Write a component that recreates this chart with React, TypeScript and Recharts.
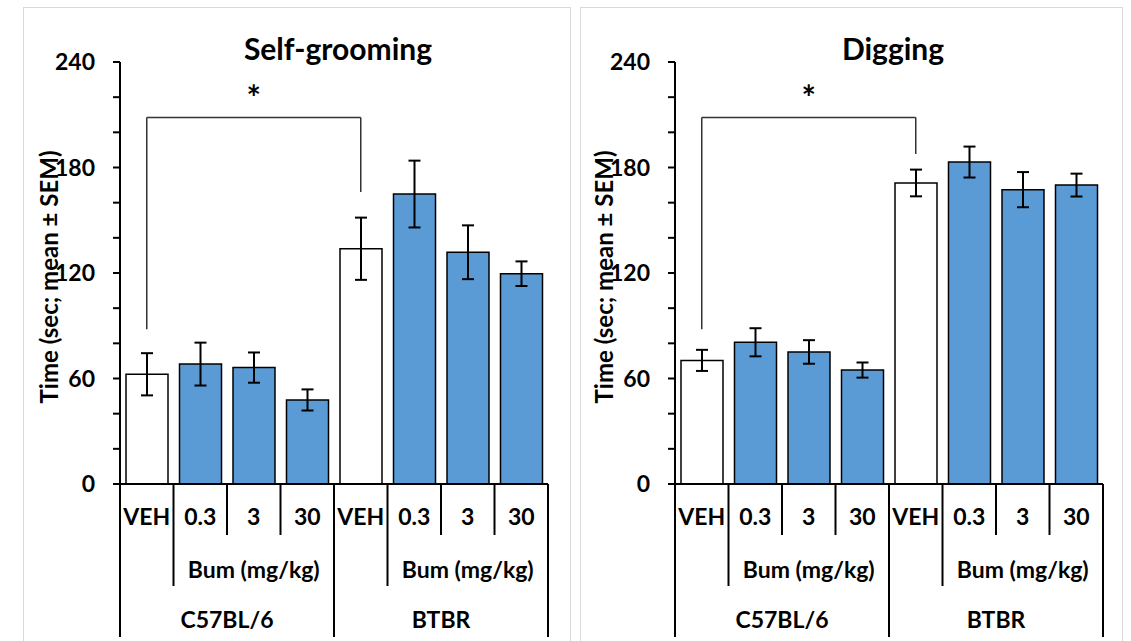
import { BarChart, Bar, XAxis, YAxis, ErrorBar, Cell, ReferenceLine } from 'recharts';

// category keys (unique) and the labels shown under each bar
const keys = ['C57-VEH', 'C57-0.3', 'C57-3', 'C57-30', 'BTBR-VEH', 'BTBR-0.3', 'BTBR-3', 'BTBR-30'];
const tickLabels = ['VEH', '0.3', '3', '30', 'VEH', '0.3', '3', '30'];
const strains = ['C57BL/6', 'BTBR'];
const doseLabel = 'Bum (mg/kg)';

const groomMeans = [62.4, 68.2, 66.2, 47.8, 133.8, 164.9, 131.8, 119.6];
const groomSem = [12, 12.2, 8.6, 6, 17.7, 19, 15.3, 7];
const digMeans = [70.3, 80.6, 75.1, 64.8, 171.2, 183.1, 167.4, 170];
const digSem = [6, 8, 6.7, 4.3, 7.6, 8.8, 10, 6.5];

const yTicks = [0, 20, 40, 60, 80, 100, 120, 140, 160, 180, 200, 220, 240];
const yLabels = [0, 60, 120, 180, 240];

// significance bracket (y values)
const bracketTop = 208.5;
const bracketLeftEnd = 88;
const groomBracketRight = 166;
const digBracketRight = 187.7;

const BLUE = '#5B9BD5';
const CHART_W = 568;
const CHART_H = 641;
const PLOT_LEFT = 120;
const PLOT_RIGHT = 548;
const PLOT_TOP = 62;
const PLOT_BOTTOM = 484;
const BAND = (PLOT_RIGHT - PLOT_LEFT) / keys.length;
const LABEL_SIZE = 23;

const XTick = (props: any) => {
  const { x, y, index } = props;
  const left = x - BAND / 2;
  const strainStart = index % 4 === 0;
  const doseStart = index % 4 === 1;
  const depth = strainStart ? 153 : doseStart ? 102 : 51;
  return (
    <g>
      <line x1={left} x2={left} y1={y} y2={y + depth} stroke="#000" strokeWidth={2} />
      {index === keys.length - 1 && (
        <line x1={x + BAND / 2} x2={x + BAND / 2} y1={y} y2={y + 153} stroke="#000" strokeWidth={2} />
      )}
      <text x={x} y={y + 41} textAnchor="middle" fontSize={LABEL_SIZE} fontWeight={700} fill="#000">
        {tickLabels[index]}
      </text>
      {doseStart && (
        <text x={x + BAND} y={y + 94} textAnchor="middle" fontSize={LABEL_SIZE} fontWeight={700} fill="#000">
          {doseLabel}
        </text>
      )}
      {strainStart && (
        <text x={x + 1.5 * BAND} y={y + 144} textAnchor="middle" fontSize={LABEL_SIZE} fontWeight={700} fill="#000">
          {strains[index / 4]}
        </text>
      )}
    </g>
  );
};

const YTick = (props: any) => {
  const { x, y, payload } = props;
  if (!yLabels.includes(payload.value)) return <g />;
  return (
    <text x={x} y={y + 8} textAnchor="end" fontSize={23} fontWeight={700} fill="#000">
      {payload.value}
    </text>
  );
};

const YLabel = (props: any) => {
  const vb = props.viewBox || { x: 60, y: PLOT_TOP, height: PLOT_BOTTOM - PLOT_TOP };
  const cx = vb.x - 12;
  const cy = vb.y + vb.height / 2 + 4;
  return (
    <text
      x={cx}
      y={cy}
      transform={`rotate(-90 ${cx} ${cy})`}
      textAnchor="middle"
      dominantBaseline="central"
      fontSize={24}
      fontWeight={700}
      fill="#000"
    >
      Time (sec; mean ± SEM)
    </text>
  );
};

const Panel = ({ title, means, sems, bracketRight, left }: any) => {
  const data = keys.map((k, i) => ({ key: k, mean: means[i], sem: sems[i] }));
  return (
    <div style={{ position: 'absolute', left, top: 0, width: CHART_W, height: CHART_H }}>
      <div
        style={{
          position: 'absolute',
          left: 0,
          width: 676,
          top: 33,
          fontSize: 30,
          lineHeight: '30px',
          fontWeight: 700,
          textAlign: 'center',
        }}
      >
        {title}
      </div>
      <BarChart
        width={CHART_W}
        height={CHART_H}
        data={data}
        margin={{ top: PLOT_TOP, right: CHART_W - PLOT_RIGHT, left: 60, bottom: 0 }}
        barSize={42}
      >
        <XAxis
          dataKey="key"
          interval={0}
          height={CHART_H - PLOT_BOTTOM}
          tickSize={0}
          tickMargin={0}
          tickLine={false}
          axisLine={{ stroke: '#000', strokeWidth: 2 }}
          tick={<XTick />}
        />
        <YAxis
          width={60}
          domain={[0, 240]}
          ticks={yTicks}
          interval={0}
          tickSize={7}
          tickMargin={18}
          tickLine={{ stroke: '#000', strokeWidth: 2 }}
          axisLine={{ stroke: '#000', strokeWidth: 2 }}
          tick={<YTick />}
          label={<YLabel />}
        />
        <ReferenceLine
          segment={[{ x: keys[0], y: bracketTop }, { x: keys[4], y: bracketTop }]}
          stroke="#333"
          strokeWidth={1.5}
          label={{ value: '*', position: 'top', offset: 7, fontSize: 34, fontWeight: 700, fill: '#000' }}
        />
        <ReferenceLine
          segment={[{ x: keys[0], y: bracketTop }, { x: keys[0], y: bracketLeftEnd }]}
          stroke="#333"
          strokeWidth={1.5}
        />
        <ReferenceLine
          segment={[{ x: keys[4], y: bracketTop }, { x: keys[4], y: bracketRight }]}
          stroke="#333"
          strokeWidth={1.5}
        />
        <Bar dataKey="mean" stroke="#000" strokeWidth={1.5} isAnimationActive={false}>
          {data.map((d, i) => (
            <Cell key={d.key} fill={i % 4 === 0 ? '#fff' : BLUE} />
          ))}
          <ErrorBar dataKey="sem" width={6} stroke="#000" strokeWidth={2} direction="y" />
        </Bar>
      </BarChart>
    </div>
  );
};

export default function App() {
  return (
    <div
      style={{
        position: 'absolute',
        left: 0,
        top: 0,
        width: 1131,
        height: 641,
        overflow: 'hidden',
        background: '#fff',
        fontFamily: 'Lato, sans-serif',
      }}
    >
      <div style={{ position: 'absolute', left: 23, top: 7, width: 546, height: 700, border: '1px solid #d9d9d9' }} />
      <div style={{ position: 'absolute', left: 580, top: 7, width: 541, height: 700, border: '1px solid #d9d9d9' }} />
      <Panel title="Self-grooming" means={groomMeans} sems={groomSem} bracketRight={groomBracketRight} left={0} />
      <Panel title="Digging" means={digMeans} sems={digSem} bracketRight={digBracketRight} left={555} />
    </div>
  );
}
